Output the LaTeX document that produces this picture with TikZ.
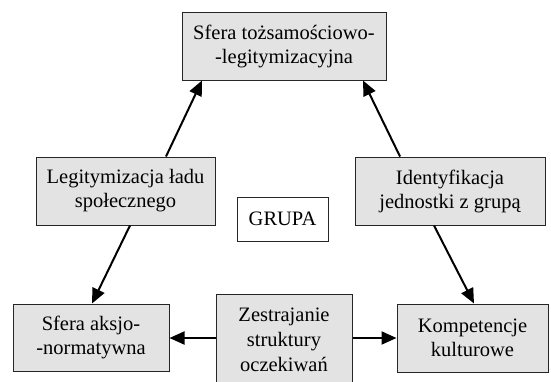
\documentclass[tikz,border=0pt]{standalone}
\usepackage{fontspec}
\setmainfont{Liberation Serif}
\usetikzlibrary{arrows.meta,calc}
\begin{document}
\begin{tikzpicture}[x=1pt,y=-1pt,
  box/.style={draw=black!85,line width=1pt,fill=black!11,align=center,
    inner sep=0pt,font=\fontsize{20.5}{24}\selectfont,text=black},
  plain/.style={draw=black!85,line width=1pt,fill=white,align=center,
    inner sep=0pt,font=\fontsize{20.5}{24}\selectfont,text=black},
  arr/.style={line width=2pt,draw=black,-{Triangle[length=15pt,width=13pt]}}]
\useasboundingbox (0,0) rectangle (551,381);
\node[box,minimum width=204pt,minimum height=68pt] (top) at (284,46)
  {Sfera tożsamościowo-\\-legitymizacyjna};
\node[box,minimum width=179pt,minimum height=68pt] (legit) at (125.5,191)
  {Legitymizacja ładu\\społecznego};
\node[box,minimum width=190pt,minimum height=68pt] (ident) at (450,191)
  {Identyfikacja\\jednostki z grupą};
\node[plain,minimum width=91pt,minimum height=44pt] (grupa) at (282.5,219)
  {GRUPA};
\node[box,minimum width=156pt,minimum height=67pt] (aksjo) at (91,337.5)
  {Sfera aksjo-\\-normatywna};
\node[box,minimum width=151pt,minimum height=68pt] (komp) at (472.5,338)
  {Kompetencje\\kulturowe};
\node[box,minimum width=136pt,minimum height=92pt,font=\fontsize{20.5}{25}\selectfont] (zest) at (284,340)
  {Zestrajanie\\struktury\\oczekiwań};
\draw[arr] ($(legit.north)+(40.5,0)$) -- ($(top.south)+(-82,0)$);
\draw[arr] ($(ident.north)+(-50,0)$) -- ($(top.south)+(79,0)$);
\draw[arr] ($(legit.south)+(4.5,0)$) -- ($(aksjo.north)+(1,0)$);
\draw[arr] ($(ident.south)+(-16,0)$) -- ($(komp.north)+(1.5,0)$);
\draw[arr] (zest.west |- 0,338) -- (aksjo.east |- 0,338);
\draw[arr] (zest.east |- 0,338) -- (komp.west |- 0,338);
\end{tikzpicture}
\end{document}
